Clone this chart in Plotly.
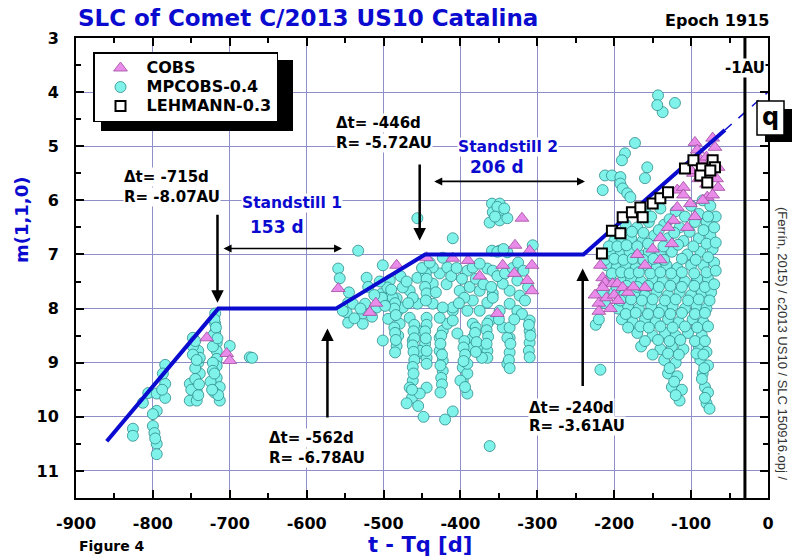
import plotly.graph_objects as go

# ---------------- data ----------------
# MPCOBS-0.4 observations (days from perihelion, m(1,1,0))
mp_early = [(-826,10.22),(-826,10.35),(-813,9.74),(-806,9.56),(-800,10.17),(-795,9.57),(-795,9.89),
            (-795,10.5),(-795,10.69),(-784,9.04),(-784,9.39),(-784,9.65),(-752,9.39),(-752,9.7),
            (-748,8.54),(-743,9.7),(-743,9.52),(-741,8.78),(-741,9.0),(-739,9.2),(-739,8.91),
            (-719,8.09),(-719,8.28),(-719,8.44),(-717,8.63),(-717,8.78),(-717,8.93),(-717,9.06),
            (-717,9.28),(-713,9.7),(-713,9.45),(-700,8.69),(-674,8.9),(-671,8.91),(-748,8.7),
            (-748,8.85),(-745,9.1),(-745,9.3),(-750,9.5),(-741,9.6),(-722,8.5),(-722,8.7),
            (-722,9.0),(-722,9.15),(-725,9.35),(-720,9.55),(-715,9.6),
            (-800,9.95),(-798,10.3),(-797,10.4),(-787,9.2),(-788,9.5),(-745,8.6),(-743,8.95),
            (-740,9.4),(-720,8.2),(-718,8.35),(-716,8.55),(-720,9.2),(-723,9.5)]
mp_middle = [(-456,6.33),(-410,6.70),(-533,6.93),(-559,7.26),(-557,7.44),(-501,7.20),(-546,7.89),
             (-548,8.07),(-546,8.26),(-527,8.28),(-524,7.91),(-502,7.72),(-492,7.80),(-483,7.81),
             (-494,8.19),(-481,8.04),(-479,8.28),(-481,8.50),(-483,8.69),(-485,8.81),(-466,8.17),
             (-455,8.41),(-455,8.83),(-446,8.65),(-444,8.91),(-444,9.02),(-462,9.33),(-466,9.46),
             (-463,9.65),(-444,9.46),(-423,8.41),(-427,8.54),(-427,8.78),(-423,8.96),(-423,9.15),
             (-417,8.28),(-410,8.04),(-404,8.46),(-397,9.09),(-397,9.33),(-391,9.20),(-400,9.33),
             (-384,8.28),(-384,8.54),(-384,8.72),(-372,8.69),(-365,8.78),(-365,8.91),(-362,8.22),
             (-345,8.35),(-336,8.54),(-336,8.81),(-310,8.22),(-310,8.41),(-310,8.63),(-359,6.06),
             (-349,6.06),(-358,6.22),(-345,6.24),(-362,6.41),(-349,6.37),(-339,6.33),(-359,6.93),
             (-349,6.93),(-339,6.96),(-306,6.83),(-323,7.76),(-336,7.67),(-326,7.48),(-345,7.54),
             (-358,7.72),(-365,7.89),(-349,8.04),(-336,7.91),(-375,7.67),(-384,7.85),(-401,7.67),
             (-410,7.98),(-427,7.35),(-436,7.54),(-436,7.24),(-456,7.43),(-466,7.67),(-475,7.61),
             (-492,7.48),(-495,7.61),(-417,7.24),(-391,7.30),(-384,7.24),(-365,7.26),(-358,7.30),
             (-423,7.06),(-375,7.17),(-540,7.91),(-527,8.09),(-509,7.98),(-502,7.80),(-475,7.98),
             (-456,7.91),(-436,7.91),(-423,7.98),(-444,8.17),(-427,8.17),(-410,8.22),(-391,8.04),
             (-375,8.04),(-365,8.28),(-358,7.80),(-326,8.04),(-339,8.54),(-339,9.02),(-372,8.91),
             (-391,9.57),(-391,9.02),(-453,9.57),(-453,8.78),(-462,8.59),(-488,7.80),(-553,8.04),
             (-522,7.43),(-501,8.59),(-362,10.54),(-410,9.9),(-420,10.05),(-455,9.8),(-448,10.0),
             (-470,9.75),
             (-485,7.9),(-486,8.0),(-484,8.12),(-486,8.35),(-485,8.45),(-484,8.58),
             (-460,8.3),(-461,8.42),(-460,8.55),(-462,8.68),(-461,8.8),(-460,8.95),(-462,9.08),
             (-461,9.2),(-463,9.5),
             (-445,7.35),(-444,7.45),(-446,7.6),(-444,7.72),(-445,7.85),(-444,8.3),(-446,8.42),
             (-445,8.55),(-444,8.78),
             (-425,8.5),(-426,8.65),(-424,8.85),(-426,9.05),(-425,9.28),(-424,9.4),(-426,9.55),
             (-395,8.6),(-396,8.72),(-394,8.85),(-396,8.97),(-394,9.45),
             (-380,8.35),(-381,8.45),(-379,8.62),(-380,8.8),
             (-366,8.4),(-364,8.52),(-366,8.65),
             (-336,8.35),(-335,8.65),(-337,8.95),(-336,9.1),
             (-311,8.3),(-309,8.5),(-311,8.78),(-310,8.9),
             (-520,7.6),(-512,7.75),(-505,7.5),(-498,7.95),(-490,7.65),(-478,7.4),(-470,7.5),
             (-462,7.8),(-450,7.25),(-440,7.15),(-432,7.7),(-418,7.55),(-412,7.4),(-405,7.25),
             (-398,7.45),(-395,7.8),(-388,7.6),(-380,7.45),(-370,7.55),(-360,7.6),(-352,7.4),
             (-342,7.35),(-332,7.25),(-325,7.15),(-318,7.3),(-312,7.6),(-316,7.85),(-320,8.1),
             (-330,8.2),(-350,8.2),(-402,7.9),(-468,7.9),(-515,8.15),(-530,8.0),(-545,7.7),
             (-538,8.18),
             (-352,6.12),(-355,6.3),(-343,6.15),(-352,6.95),(-344,6.9)]
mp_late = [(-143,4.06),(-121,4.20),(-137,4.37),(-144,4.24),(-173,4.94),(-186,5.13),(-190,5.26),
           (-157,5.39),(-160,5.59),(-212,5.54),(-203,5.54),(-192,5.57),(-192,5.69),(-189,5.78),
           (-183,5.87),(-179,5.94),(-215,5.81),
           (-160,6.2),(-140,6.15),(-120,6.2),(-100,6.1),(-85,6.0),(-75,6.1),
           (-185,6.45),(-170,6.5),(-155,6.4),(-135,6.45),(-115,6.5),(-95,6.4),(-80,6.4),(-68,6.3),
           (-200,6.75),(-190,6.7),(-178,6.7),(-163,6.75),(-148,6.65),(-130,6.7),(-110,6.75),(-90,6.7),(-75,6.65),
           (-205,6.95),(-192,7.0),(-180,6.95),(-168,7.0),(-155,6.95),(-140,7.0),(-125,6.95),(-105,7.0),(-88,6.95),(-72,6.9),
           (-210,7.2),(-197,7.25),(-185,7.2),(-172,7.25),(-158,7.2),(-145,7.25),(-132,7.2),(-118,7.25),(-100,7.2),(-84,7.2),(-70,7.15),
           (-205,7.45),(-190,7.5),(-178,7.45),(-165,7.5),(-150,7.45),(-137,7.5),(-122,7.45),(-108,7.5),(-92,7.45),(-78,7.45),
           (-200,7.7),(-187,7.75),(-173,7.7),(-160,7.75),(-145,7.7),(-130,7.75),(-115,7.7),(-100,7.75),(-86,7.7),(-74,7.7),
           (-195,8.0),(-182,7.95),(-168,8.0),(-152,7.95),(-138,8.0),(-124,7.95),(-108,8.0),(-93,7.95),(-80,8.0),
           (-190,8.2),(-176,8.25),(-160,8.2),(-146,8.25),(-130,8.2),(-116,8.25),(-98,8.2),(-84,8.25),
           (-170,8.45),(-150,8.5),(-134,8.45),(-120,8.5),(-104,8.45),(-86,8.5),
           (-165,8.7),(-140,8.75),(-125,8.7),(-110,8.75),(-90,8.7),(-80,8.8),
           (-135,8.95),(-120,9.0),(-88,8.95),(-78,9.05),
           (-130,9.2),(-118,9.25),(-85,9.2),(-125,9.45),(-82,9.45),(-115,9.7),(-80,9.75),
           (-218,9.13),(-224,8.3),(-220,8.2),(-212,7.9),(-215,7.7),
           (-152,6.3),(-128,6.35),(-108,6.3),(-90,6.25),(-78,6.3),
           (-192,6.6),(-177,6.58),(-162,6.6),(-142,6.55),(-122,6.6),(-102,6.58),(-84,6.55),(-70,6.5),
           (-207,6.85),(-196,6.85),(-184,6.83),(-170,6.85),(-156,6.8),(-136,6.85),(-117,6.82),
           (-97,6.85),(-80,6.8),(-68,6.78),
           (-212,7.1),(-200,7.08),(-188,7.1),(-176,7.08),(-162,7.1),(-149,7.08),(-135,7.1),
           (-112,7.08),(-94,7.1),(-78,7.05),
           (-203,7.35),(-191,7.33),(-180,7.35),(-168,7.33),(-153,7.35),(-140,7.33),(-126,7.35),
           (-112,7.33),(-96,7.35),(-80,7.33),(-68,7.3),
           (-197,7.6),(-184,7.58),(-170,7.6),(-156,7.58),(-142,7.6),(-127,7.58),(-112,7.6),
           (-96,7.58),(-82,7.6),(-70,7.55),
           (-192,7.85),(-178,7.83),(-164,7.85),(-150,7.83),(-134,7.85),(-120,7.83),(-104,7.85),
           (-90,7.83),(-76,7.85),
           (-185,8.1),(-172,8.08),(-156,8.1),(-142,8.08),(-127,8.1),(-112,8.08),(-95,8.1),(-82,8.08),
           (-182,8.35),(-166,8.33),(-155,8.35),(-140,8.33),(-124,8.35),(-108,8.33),(-92,8.35),(-78,8.33),
           (-160,8.6),(-143,8.58),(-128,8.6),(-114,8.58),(-95,8.6),(-82,8.6),
           (-150,8.85),(-130,8.83),(-116,8.85),(-93,8.83),(-84,8.85),
           (-128,9.1),(-122,9.35),(-112,9.5),(-120,9.6),(-83,9.1),(-86,9.3),(-78,9.55),(-82,9.65),
           (-76,9.85)]

# COBS observations
cobs_pts = [(-730,8.54),(-704,8.83),(-700,8.96),
            (-559,7.63),(-483,7.20),(-518,8.07),(-320,6.33),(-329,6.83),(-310,6.93),(-307,7.20),
            (-313,7.48),(-307,7.67),(-352,8.09),(-444,7.06),(-410,7.07),(-390,7.11),(-345,7.20),
            (-375,7.4),(-330,7.35),(-510,7.9),
            (-218,7.20),(-215,7.43),(-212,7.52),(-202,7.54),(-196,7.54),(-189,7.61),(-215,7.61),
            (-160,7.61),(-225,7.75),(-220,7.9),(-210,7.8),(-205,8.0),(-200,7.75),(-195,7.85),
            (-182,7.7),(-175,7.6),(-220,8.05),
            (-118,5.81),(-110,5.76),(-110,5.9),(-101,6.06),(-97,5.50),(-95,4.93),(-92,5.07),
            (-88,5.25),(-72,4.85),(-69,5.02),(-65,5.39),(-65,5.76),(-67,5.6),(-79,5.94),(-72,5.9),
            (-118,6.13),(-123,6.37),(-130,6.50),(-140,6.69),(-150,6.9),(-170,7.0),(-160,7.2),
            (-140,7.1),(-125,6.8),(-105,6.5),(-95,6.3),(-85,6.0),(-80,5.7),(-90,5.6),(-100,5.45),
            (-80,5.2),(-75,5.35)]

# LEHMANN-0.3 observations
lehmann_pts = [(-216,6.98),(-203,6.56),(-192,6.61),(-189,6.31),(-177,6.22),(-166,6.13),(-163,6.31),
               (-150,6.06),(-140,5.96),(-130,5.85),(-108,5.41),(-97,5.26),(-86,5.41),(-88,5.54),
               (-79,5.67),(-72,5.26),(-69,5.39),(-75,5.45)]

# secular light curve model (standstills)
model_days = [-860, -715, -562, -446, -240, -56]
model_mags = [10.45, 8.0, 8.0, 7.0, 7.0, 4.70]
extrap_days = [-56, 0]
extrap_mags = [4.70, 4.0]

x_ticks = [-900, -800, -700, -600, -500, -400, -300, -200, -100, 0]
y_ticks = [3, 4, 5, 6, 7, 8, 9, 10, 11]
one_au_day = -30
series_names = ["COBS", "MPCOBS-0.4", "LEHMANN-0.3"]

# ---------------------------------------------------------------
mp_pts = mp_early + mp_middle + mp_late
FONT = "DejaVu Sans"
BLUE = "#0b0bd0"
L, R, T, B = 76, 768, 38, 498
W, H = 798, 560

def px(xp):
    return (xp - L) / (R - L)

def py(yp):
    return 1 - (yp - T) / (B - T)

def lname(s):
    return '<span style="font-size:16px">' + s + '</span>'

fig = go.Figure()
fig.add_trace(go.Scatter(
    x=[p[0] for p in mp_pts], y=[p[1] for p in mp_pts], mode="markers", name=lname(series_names[1]),
    legendrank=2,
    marker=dict(symbol="circle", size=11, color="#7ff2ea", line=dict(color="#2e8c8a", width=0.8))))
fig.add_trace(go.Scatter(
    x=[p[0] for p in cobs_pts], y=[p[1] for p in cobs_pts], mode="markers", name=lname(series_names[0]),
    legendrank=1,
    marker=dict(symbol="triangle-up", size=12, color="#e98be9", line=dict(color="#a04aa0", width=0.8))))
fig.add_trace(go.Scatter(x=model_days, y=model_mags, mode="lines", showlegend=False,
                         line=dict(color=BLUE, width=4)))
fig.add_trace(go.Scatter(x=extrap_days, y=extrap_mags, mode="lines", showlegend=False,
                         line=dict(color=BLUE, width=1.5, dash="dash")))
fig.add_trace(go.Scatter(
    x=[p[0] for p in lehmann_pts], y=[p[1] for p in lehmann_pts], mode="markers", name=lname(series_names[2]),
    legendrank=3,
    marker=dict(symbol="square", size=10, color="white", line=dict(color="black", width=2))))

axis_common = dict(
    showline=True, linecolor="black", linewidth=2, mirror="allticks",
    ticks="inside", ticklen=8, tickwidth=2, tickcolor="black",
    showgrid=True, gridcolor="#8e8ec8", gridwidth=1, zeroline=False,
    tickfont=dict(family=FONT, size=16, color="black", weight="bold"),
)
fig.update_xaxes(range=[-900, 0], tickmode="array", tickvals=x_ticks,
                 ticktext=[str(v) for v in x_ticks], ticklabelstandoff=10,
                 minor=dict(dtick=50, tick0=-900, ticks="inside", ticklen=5, tickwidth=1.5,
                            tickcolor="black", showgrid=False), **axis_common)
fig.update_yaxes(range=[11.5, 3], tickmode="array", tickvals=y_ticks,
                 ticktext=[str(v) for v in y_ticks], ticklabelstandoff=12,
                 minor=dict(dtick=0.5, tick0=3, ticks="inside", ticklen=5, tickwidth=1.5,
                            tickcolor="black", showgrid=False), **axis_common)

shapes = [
    # 1 AU line
    dict(type="line", xref="x", yref="paper", x0=one_au_day, x1=one_au_day, y0=0, y1=1,
         line=dict(color="black", width=3), layer="above"),
    # legend shadow
    dict(type="rect", xref="paper", yref="paper", x0=px(101), x1=px(293), y0=py(131), y1=py(60),
         fillcolor="black", line=dict(width=0), layer="above"),
    # q box shadow + box
    dict(type="rect", xref="paper", yref="paper", x0=px(765), x1=px(792), y0=py(142), y1=py(109),
         fillcolor="black", line=dict(width=0), layer="above"),
    dict(type="rect", xref="paper", yref="paper", x0=px(757), x1=px(784), y0=py(135), y1=py(101),
         fillcolor="white", line=dict(color="black", width=1.5), layer="above"),
]

ann = []
def txt(text, x, y, size=15, color="black", xanchor="left", xref="x", yref="y", bg="white", **kw):
    ann.append(dict(text=text, x=x, y=y, xref=xref, yref=yref, xanchor=xanchor, yanchor="middle",
                    showarrow=False, bgcolor=bg, borderpad=0,
                    font=dict(family=FONT, size=size, color=color, weight="bold"), **kw))

def arrow(x, y, ax, ay, width=2.5, both=False):
    ann.append(dict(text="", x=x, y=y, ax=ax, ay=ay, xref="x", yref="y", axref="x", ayref="y",
                    showarrow=True, arrowhead=2, arrowsize=1, arrowwidth=width, arrowcolor="black",
                    arrowside="end+start" if both else "end", startarrowhead=2, startarrowsize=1))

# annotations of standstill points
txt("\u0394t= -715d", -839, 5.56)
txt("R= -8.07AU", -839, 5.94)
arrow(-716, 7.89, -716, 6.24)
txt("Standstill 1", -619, 6.04, size=15.5, color=BLUE, xanchor="center")
txt("153 d", -639, 6.50, size=17, color=BLUE, xanchor="center", bg=None)
arrow(-554, 6.89, -710, 6.89, width=1.6, both=True)

txt("\u0394t= -446d", -563, 4.57)
txt("R= -5.72AU", -563, 4.94)
arrow(-453, 6.74, -453, 5.31)
txt("Standstill 2", -338, 5.02, size=15.5, color=BLUE, xanchor="center")
txt("206 d", -352, 5.39, size=17, color=BLUE, xanchor="center", bg=None)
arrow(-238, 5.65, -436, 5.65, width=1.6, both=True)

txt("\u0394t= -562d", -650, 10.39)
txt("R= -6.78AU", -650, 10.76)
arrow(-573, 8.37, -573, 10.04)

txt("\u0394t= -240d", -312, 9.83)
txt("R= -3.61AU", -312, 10.17)
arrow(-241, 7.26, -241, 9.46)

# 1 AU label and q
txt("-1AU", one_au_day, py(68), size=15, xanchor="center", yref="paper")
txt("q", px(770.5), py(117), size=24, xanchor="center", xref="paper", yref="paper", bg=None)

# titles
txt("SLC of Comet C/2013 US10 Catalina", px(77), py(18), size=23, color=BLUE,
    xref="paper", yref="paper", bg=None)
txt("Epoch 1915", px(770), py(20), size=16, xanchor="right", xref="paper", yref="paper", bg=None)
txt("t - Tq [d]", px(420), py(545), size=21, color=BLUE, xanchor="center",
    xref="paper", yref="paper", bg=None)
txt("Figure 4", px(78), py(546), size=14, xref="paper", yref="paper", bg=None)
ann.append(dict(text="m(1,1,0)", x=px(22), y=py(220), xref="paper", yref="paper",
                xanchor="center", yanchor="middle", textangle=-90, showarrow=False,
                font=dict(family=FONT, size=18, color=BLUE, weight="bold")))
ann.append(dict(text="(Ferr\u00edn, 2015) / c2013 US10 / SLC 150916.opj /", x=px(783), y=py(344),
                xref="paper", yref="paper", xanchor="center", yanchor="middle", textangle=90,
                showarrow=False, font=dict(family="Liberation Sans", size=13, color="#333333")))

fig.update_layout(
    width=W, height=H, margin=dict(l=L, r=W - R, t=T, b=H - B),
    paper_bgcolor="white", plot_bgcolor="white",
    shapes=shapes, annotations=ann,
    showlegend=True,
    legend=dict(x=px(93), y=py(52), xanchor="left", yanchor="top", bgcolor="white",
                bordercolor="black", borderwidth=1.5, itemwidth=42, tracegroupgap=0,
                traceorder="normal",
                font=dict(family=FONT, size=12, color="black", weight="bold")),
)
fig.write_html("out.html", config={"displayModeBar": False},
               post_script="document.body.style.margin='0';document.body.style.padding='0';"
                           "document.documentElement.style.overflow='hidden';")
